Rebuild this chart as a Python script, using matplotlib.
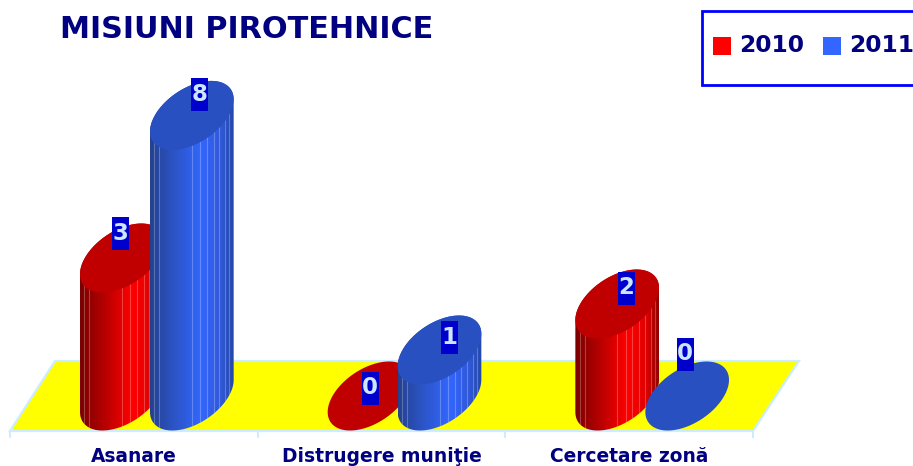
import numpy as np
import matplotlib
matplotlib.use("Agg")
import matplotlib.pyplot as plt
from matplotlib.patches import Polygon, Rectangle
from matplotlib.colors import LinearSegmentedColormap

# ---- data ----
title = "MISIUNI PIROTEHNICE"
categories = ["Asanare", "Distrugere muniţie", "Cercetare zonă"]
series_names = ["2010", "2011"]
labels_2010 = [3, 0, 2]
labels_2011 = [8, 1, 0]
# Drawn column heights: the reference's "8" column is
# only about as tall as 6.1 units on the scale of the other columns.
heights_2010 = [3, 0, 2]
heights_2011 = [6.1, 1, 0]

# ---- layout (pixels) ----
W, H = 913, 466
PX_PER_CAT = 247.67
PX_PER_UNIT = 46.0
X0, Y0 = 10.0, 396.0
SERIES_OFFSET = {0: -12.0, 1: 58.0}
A, B, R = 37.0, 19.5, 34.5
LABEL_OFFSETS = {0: [(-1.5, -25), (0.5, -8), (9, -16)],
                 1: [(8, -21), (9.5, -13), (-2, -42)]}

fig = plt.figure(figsize=(W / 100, H / 100), dpi=100)
fig.patch.set_facecolor("white")
plt.rcParams["font.family"] = ["DejaVu Sans"]

# Pixel-space layer for floor, title, legend and category labels
bg = fig.add_axes([0, 0, 1, 1], zorder=0)
bg.set_xlim(0, W)
bg.set_ylim(H, 0)
bg.axis("off")

# Chart layer: x in category units, y in value units
ax = fig.add_axes([0, 0, 1, 1], zorder=1)
ax.patch.set_alpha(0)
ax.axis("off")
xlim = (-X0 / PX_PER_CAT, (W - X0) / PX_PER_CAT)
ylim = ((Y0 - H) / PX_PER_UNIT, Y0 / PX_PER_UNIT)

NAVY = "#000080"
EDGE = "#CCECFF"

# Floor
bg.add_patch(Polygon([(10, 431), (55, 361), (799, 361), (753, 431)], closed=True,
                     facecolor="#FFFF00", edgecolor=EDGE, lw=1.6))
for i in range(len(categories) + 1):
    tx = X0 + PX_PER_CAT * i
    bg.plot([tx, tx], [431, 437], color=EDGE, lw=1.4)
for i, c in enumerate(categories):
    bg.text(X0 + PX_PER_CAT * (i + 0.5), 456, c, ha="center", va="center",
            color=NAVY, fontweight="bold", fontsize=13.4)

bg.text(60, 29, title, ha="left", va="center", color=NAVY, fontweight="bold",
        fontsize=21.8)

# Legend (runs off the right-hand edge, as in the reference)
bg.add_patch(Rectangle((702, 11), 240, 74, facecolor="white", edgecolor="#0000FF", lw=2))
for sq_x, tx, col, name in [(713, 739, "#FF0000", series_names[0]),
                            (823, 849, "#3366FF", series_names[1])]:
    bg.add_patch(Rectangle((sq_x, 37), 18, 18, facecolor=col, edgecolor="none"))
    bg.text(tx, 46, name, ha="left", va="center", color=NAVY, fontweight="bold",
            fontsize=16.8)

# Cylinders
red_cmap = LinearSegmentedColormap.from_list(
    "r", [(0, "#7A0000"), (0.3, "#B80000"), (0.62, "#FF0000"), (0.85, "#E00000"), (1, "#900000")])
blue_cmap = LinearSegmentedColormap.from_list(
    "b", [(0, "#24408F"), (0.3, "#2C55C8"), (0.62, "#3366FF"), (0.85, "#3058D8"), (1, "#2448A5")])
FACETS = [0.05, 0.11, 0.5, 0.6, 0.68, 0.76, 0.83, 0.90, 0.95]

T = np.linspace(0, 2 * np.pi, 400, endpoint=False)
PX = A * np.cos(T) + B * np.sin(T)
PY = R * np.sin(T)
I_RIGHT, I_LEFT = int(np.argmax(PX)), int(np.argmin(PX))
HALF = np.abs(PX).max()


def arc_points(cx, vy, i0, i1):
    n = len(PX)
    idx = np.arange(i0, i1 + (n if i1 < i0 else 0) + 1) % n
    return np.column_stack([cx + PX[idx] / PX_PER_CAT, vy + PY[idx] / PX_PER_UNIT])


def cylinder(cx, value, cmap, top_col, z):
    half = HALF / PX_PER_CAT
    top = np.column_stack([cx + PX / PX_PER_CAT, value + PY / PX_PER_UNIT])
    if value > 0:
        lower = arc_points(cx, 0, I_LEFT, I_RIGHT)
        upper = arc_points(cx, value, I_RIGHT, I_LEFT)
        sil = Polygon(np.vstack([lower, upper]), closed=True, facecolor="none",
                      edgecolor="none", transform=ax.transData)
        ax.add_patch(sil)
        grad = np.linspace(0, 1, 256).reshape(1, -1)
        ymin, ymax = -R / PX_PER_UNIT - 0.1, value + R / PX_PER_UNIT + 0.1
        im = ax.imshow(grad, cmap=cmap, aspect="auto", zorder=z,
                       extent=(cx - half, cx + half, ymin, ymax))
        im.set_clip_path(sil)
        for f in FACETS:
            fx = cx - half + 2 * half * f
            ln, = ax.plot([fx, fx], [ymin, ymax], color="#FFFFFF", alpha=0.25,
                          lw=0.8, zorder=z + 0.1)
            ln.set_clip_path(sil)
    ax.add_patch(Polygon(top, closed=True, facecolor=top_col, edgecolor="none",
                         zorder=z + 0.2))


series = [(heights_2010, labels_2010, red_cmap, "#C00000"),
          (heights_2011, labels_2011, blue_cmap, "#2850C0")]

for c in range(len(categories)):
    for s, (vals, _, cmap, top_col) in enumerate(series):
        cx = c + 0.5 + SERIES_OFFSET[s] / PX_PER_CAT
        cylinder(cx, vals[c], cmap, top_col, 2 + c * 2 + s * 0.5)

# Data labels
for s, (vals, labs, _, _) in enumerate(series):
    for c in range(len(categories)):
        dx, dy = LABEL_OFFSETS[s][c]
        lx = c + 0.5 + (SERIES_OFFSET[s] + dx) / PX_PER_CAT
        ly = vals[c] - dy / PX_PER_UNIT
        w, h = 17 / PX_PER_CAT, 33 / PX_PER_UNIT
        ax.add_patch(Rectangle((lx - w / 2, ly - h / 2), w, h, facecolor="#0000CC",
                               edgecolor="none", zorder=20))
        ax.text(lx, ly, str(labs[c]), ha="center", va="center", color="#CCE6FF",
                fontweight="bold", fontsize=16.5, zorder=21)

ax.set_xlim(*xlim)
ax.set_ylim(*ylim)
fig.savefig("out.png", dpi=100)
